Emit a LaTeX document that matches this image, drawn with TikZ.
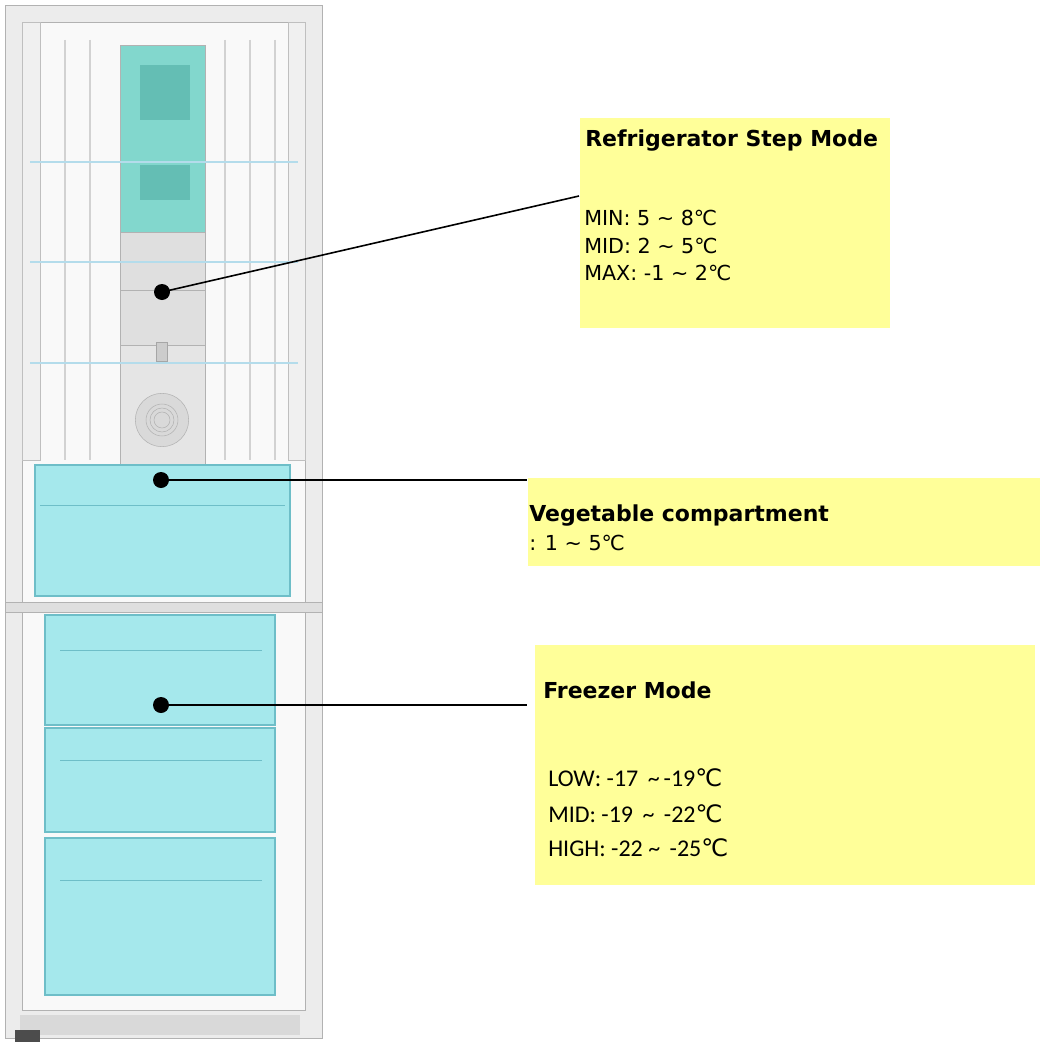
\documentclass[tikz,border=0pt]{standalone}
\usepackage{fontspec}
\setmainfont{DejaVu Sans}
\newfontfamily\carlitofont{Carlito}
\newfontfamily\dejavufont{DejaVu Sans}
\definecolor{lblyellow}{RGB}{255,255,153}
\definecolor{teal1}{RGB}{130,215,205}
\definecolor{teal2}{RGB}{100,190,180}
\definecolor{drawerfill}{RGB}{165,232,236}
\definecolor{draweredge}{RGB}{110,190,200}
\definecolor{shelf}{RGB}{180,220,235}
\begin{document}
\begin{tikzpicture}[x=0.75pt,y=-0.75pt,
 lbl/.style={fill=lblyellow,draw=none},
 dot/.style={circle,fill=black,inner sep=0pt,minimum size=12pt},
 drawer/.style={fill=drawerfill,draw=draweredge,line width=0.8pt},
 txt/.style={anchor=west,inner sep=0pt,font=\dejavufont\fontsize{15.5}{18}\selectfont},
 ttl/.style={anchor=west,inner sep=0pt,font=\dejavufont\bfseries\fontsize{16.5}{18}\selectfont},
 ftxt/.style={anchor=west,inner sep=0pt,font=\carlitofont\fontsize{18}{20}\selectfont}]
\useasboundingbox (0,0) rectangle (1048,1049);
% fridge body
\filldraw[fill=gray!15,draw=gray!60] (5,5) rectangle (322,1038);
\fill[gray!30] (20,1015) rectangle (300,1035);
\fill[black!70] (15,1030) rectangle (40,1042);
\filldraw[fill=gray!5,draw=gray!60] (22,22) rectangle (305,602);
% ribs
\foreach \x in {40,65,90,225,250,275}{\draw[gray!35,line width=1pt] (\x,40) -- (\x,460);}
\filldraw[fill=gray!12,draw=gray!50] (22,22) rectangle (40,460);
\filldraw[fill=gray!12,draw=gray!50] (288,22) rectangle (305,460);
% central unit
\filldraw[fill=teal1,draw=gray!60] (120,45) rectangle (205,232);
\fill[teal2] (140,65) rectangle (190,120);
\fill[teal2] (140,165) rectangle (190,200);
\filldraw[fill=gray!25,draw=gray!60] (120,232) rectangle (205,345);
\filldraw[fill=gray!20,draw=gray!60] (120,345) rectangle (205,465);
\draw[gray!60] (120,290) -- (205,290);
\node[draw=gray!70,fill=gray!40,minimum width=8pt,minimum height=14pt,inner sep=0pt] (knob) at (162,352) {};
\node[circle,draw=gray!60,fill=gray!30,minimum size=40pt,inner sep=0pt] (fan) at (162,420) {};
\foreach \r in {12,9,6}{\draw[gray!60] (fan) circle (\r pt);}
% shelves
\foreach \y in {162,262,363}{\draw[shelf,line width=2pt] (30,\y) -- (298,\y);}
% vegetable drawer
\filldraw[drawer] (35,465) rectangle (290,596);
\draw[draweredge] (40,505) -- (285,505);
% divider and freezer
\filldraw[fill=gray!25,draw=gray!60] (5,602) rectangle (322,612);
\filldraw[fill=gray!5,draw=gray!60] (22,612) rectangle (305,1010);
\filldraw[drawer] (45,615) rectangle (275,725);
\filldraw[drawer] (45,728) rectangle (275,832);
\filldraw[drawer] (45,838) rectangle (275,995);
\draw[draweredge] (60,650) -- (262,650);
\draw[draweredge] (60,760) -- (262,760);
\draw[draweredge] (60,880) -- (262,880);
% label boxes
\fill[lbl] (580,118) rectangle (890,328);
\fill[lbl] (528,478) rectangle (1040,566);
\fill[lbl] (535,645) rectangle (1035,885);
\node[ttl] (t1) at (585,141) {Refrigerator Step Mode};
\node[txt] (a1) at (584,218) {MIN: 5 \textasciitilde{} 8℃};
\node[txt] (a2) at (584,246) {MID: 2 \textasciitilde{} 5℃};
\node[txt] (a3) at (584,273) {MAX: -1 \textasciitilde{} 2℃};
\node[ttl] (t2) at (529,516) {Vegetable compartment};
\node[txt] (b1) at (529,543) {: 1 \textasciitilde{} 5℃};
\node[ttl] (t3) at (543,690) {Freezer Mode};
\node[ftxt] (c1) at (548,778) {LOW: -17 \,\textasciitilde\,-19{\dejavufont ℃}};
\node[ftxt] (c2) at (548,814) {MID: -19 \,\textasciitilde\, -22{\dejavufont ℃}};
\node[ftxt] (c3) at (548,848) {HIGH: -22 \textasciitilde\, -25{\dejavufont ℃}};
% connectors
\node[dot] (d1) at (162,292) {};
\node[dot] (d2) at (161,480) {};
\node[dot] (d3) at (161,705) {};
\coordinate (e1) at (579,196);
\coordinate (e2) at (527,480);
\coordinate (e3) at (527,705);
\draw[line width=1.2pt] (d1.center) -- (e1);
\draw[line width=1.2pt] (d2.center) -- (e2);
\draw[line width=1.2pt] (d3.center) -- (e3);
\end{tikzpicture}
\end{document}
